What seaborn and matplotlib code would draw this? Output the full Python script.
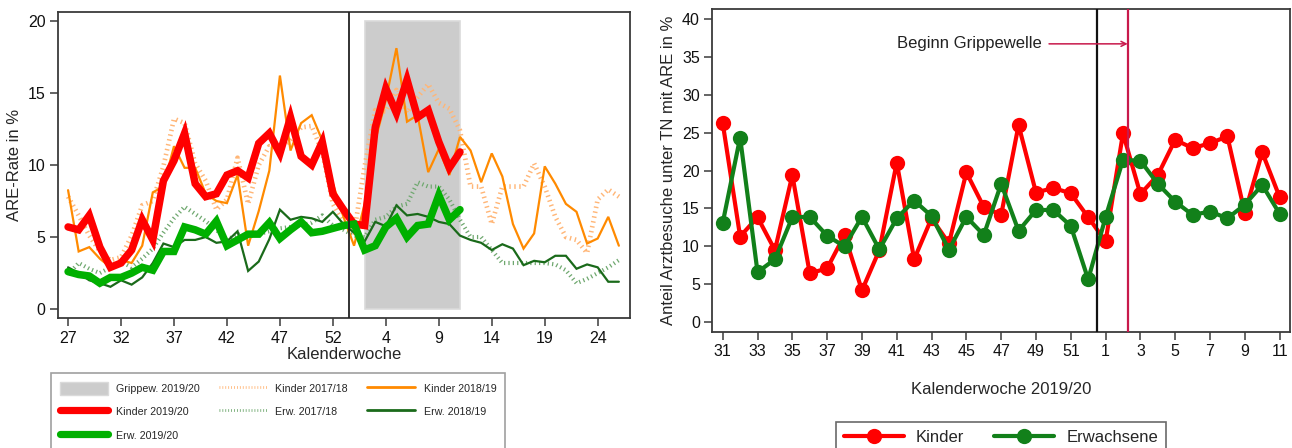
import numpy as np
import pandas as pd
import matplotlib
matplotlib.use("Agg")
import matplotlib.pyplot as plt
import seaborn as sns
from matplotlib.patches import Patch, Rectangle
from matplotlib.lines import Line2D

# ---------------- data: left panel (ARE-Rate) ----------------
left_weeks = list(range(27, 54)) + list(range(1, 27))          # 53 calendar weeks
left_tick_weeks = [27, 32, 37, 42, 47, 52, 4, 9, 14, 19, 24]

kinder_1718 = [7.8, 6.5, 5.1, 4.0, 3.4, 3.6, 5.1, 7.2, 7.5, 9.9, 13.2, 12.9, 10.1, 8.9,
               6.9, 7.6, 10.5, 7.3, 10.0, 11.3, 11.2, 11.7, 12.6, 12.7, 10.9, 7.3, 6.0,
               5.3, 9.9, 13.8, 13.7, 15.2, 13.6, 14.7, 15.6, 14.3, 13.9, 12.4, 8.5, 8.5,
               5.9, 8.5, 8.5, 8.5, 10.1, 8.5, 6.4, 5.0, 4.8, 3.9, 7.6, 8.3, 7.8]
erw_1718 = [2.4, 3.2, 2.8, 2.5, 2.9, 3.3, 2.9, 3.5, 4.2, 5.3, 6.3, 7.1, 6.6, 6.1, 5.5,
            4.8, 5.2, 5.0, 5.2, 5.4, 5.6, 5.7, 5.8, 6.0, 6.5, 5.8, 5.5, 5.1, 5.0, 6.2,
            6.4, 7.1, 7.3, 8.8, 8.5, 8.5, 7.6, 6.2, 5.0, 5.0, 4.1, 3.2, 3.2, 3.2, 3.2,
            3.2, 3.1, 2.7, 1.8, 2.1, 2.5, 2.9, 3.4]
kinder_1819 = [8.25, 4.0, 4.3, 3.5, 2.9, 3.4, 3.2, 4.4, 8.1, 8.5, 11.3, 9.8, 9.8, 8.0,
               7.5, 7.35, 9.3, 4.4, 6.8, 9.6, 16.2, 11.0, 12.9, 13.45, 11.7, 8.7, 6.4,
               4.4, 7.3, 11.7, 14.5, 18.1, 13.0, 13.45, 9.5, 11.1, 9.3, 11.95, 11.0, 8.8,
               10.8, 9.2, 5.9, 4.2, 5.25, 9.9, 8.7, 7.3, 6.75, 4.55, 4.9, 6.4, 4.4]
erw_1819 = [2.9, 2.5, 2.0, 1.8, 1.55, 2.0, 1.7, 2.2, 3.2, 4.55, 4.3, 4.8, 4.8, 5.0, 4.6,
            4.7, 5.4, 2.65, 3.3, 4.85, 6.9, 6.2, 6.4, 6.3, 6.05, 6.75, 5.9, 5.3, 4.7,
            6.05, 5.75, 7.2, 6.5, 6.6, 6.4, 6.05, 5.9, 5.1, 4.8, 4.6, 4.1, 4.5, 4.2,
            3.05, 3.35, 3.25, 3.7, 3.7, 2.8, 3.1, 2.9, 1.9, 1.9]
kinder_1920 = [5.7, 5.5, 6.5, 4.3, 2.9, 3.2, 4.1, 6.2, 4.8, 8.9, 10.3, 12.2, 8.7, 7.8,
               8.0, 9.3, 9.6, 9.1, 11.5, 12.2, 10.8, 13.3, 10.6, 10.0, 11.6, 8.0, 6.9,
               5.9, 5.8, 12.6, 15.3, 13.6, 15.9, 13.3, 13.8, 11.6, 9.8, 10.9]
erw_1920 = [2.6, 2.4, 2.3, 1.8, 2.2, 2.2, 2.5, 2.9, 2.7, 4.0, 4.0, 5.7, 5.5, 5.2, 6.1,
            4.4, 4.8, 5.2, 5.2, 6.0, 4.9, 5.5, 6.05, 5.3, 5.4, 5.6, 5.8, 5.9, 4.1, 4.4,
            5.7, 6.3, 5.0, 5.8, 5.9, 7.9, 6.2, 6.9]

flu_wave_left = (28, 37)          # index range of Grippewelle 2019/20 (KW 2 - KW 11)
flu_wave_height = 20
year_change_left = 26.5

# ---------------- data: right panel ----------------
right_weeks = list(range(31, 53)) + list(range(1, 12))
kinder_r = [26.25, 11.3, 13.85, 9.5, 19.4, 6.45, 7.1, 11.5, 4.2, 9.5, 21.05, 8.3, 13.7,
            10.4, 19.75, 15.2, 14.15, 26.0, 17.1, 17.7, 17.0, 13.85, 10.65, 24.9, 16.9,
            19.4, 24.05, 22.95, 23.6, 24.5, 14.4, 22.4, 16.5]
erw_r = [13.1, 24.35, 6.6, 8.3, 13.85, 13.9, 11.4, 10.0, 13.9, 9.6, 13.7, 16.05, 14.0,
         9.55, 13.9, 11.5, 18.25, 12.05, 14.8, 14.8, 12.7, 5.65, 13.85, 21.4, 21.3,
         18.25, 15.9, 14.15, 14.6, 13.7, 15.5, 18.1, 14.3]
year_change_right = 21.5
flu_start_right = 23.27
arrow_y = 36.7
arrow_start = 18.75

# ---------------- style ----------------
sns.set_theme(style="ticks")
plt.rcParams["font.family"] = ["Liberation Sans", "DejaVu Sans"]

RED = "#FF0000"
GREEN = "#00B000"
DKGREEN = "#1A6A1A"
ORANGE = "#FF8A00"
LORANGE = "#FFB677"
LGREEN = "#6FA86F"
RGREEN = "#12801A"
CRIMSON = "#C8194B"
SPINE = "#3A3A3A"

fig = plt.figure(figsize=(12.92, 4.48), dpi=100)
ax1 = fig.add_axes([0.0449, 0.290, 0.4427, 0.683])
ax2 = fig.add_axes([0.5513, 0.259, 0.4472, 0.721])

# ---------------- left panel ----------------
pos_left = np.arange(len(left_weeks))
ax1.add_patch(Rectangle((flu_wave_left[0], 0), flu_wave_left[1] - flu_wave_left[0],
                        flu_wave_height, facecolor="#CCCCCC", edgecolor="#DADADA",
                        linewidth=1.2, zorder=0.5))

dot = (0, (0.3, 0.75))
series = [
    (kinder_1718, LORANGE, 3.4, dot),
    (erw_1718, LGREEN, 3.0, dot),
    (kinder_1819, ORANGE, 1.6, "-"),
    (erw_1819, DKGREEN, 1.6, "-"),
    (kinder_1920, RED, 5.4, "-"),
    (erw_1920, GREEN, 5.4, "-"),
]
for vals, col, lw, ls in series:
    df = pd.DataFrame({"idx": pos_left[:len(vals)], "val": vals})
    sns.lineplot(data=df, x="idx", y="val", ax=ax1, color=col, linewidth=lw,
                 linestyle=ls, dash_capstyle="butt", solid_joinstyle="miter",
                 legend=False, zorder=2)

ax1.axvline(year_change_left, color="#222222", linewidth=1.3, zorder=3)
ax1.set_xlim(-0.95, 53.05)
ax1.set_ylim(-0.62, 20.6)
ax1.set_yticks([0, 5, 10, 15, 20])
tick_pos = [left_weeks.index(w) for w in left_tick_weeks]
ax1.set_xticks(tick_pos)
ax1.set_xticklabels([str(w) for w in left_tick_weeks])
ax1.set_xlabel("Kalenderwoche", fontsize=12, labelpad=1)
ax1.set_ylabel("ARE-Rate in %", fontsize=12, labelpad=4)

leg_handles = [
    Patch(facecolor="#CCCCCC", edgecolor="#DADADA"),
    Line2D([], [], color=RED, linewidth=5.2),
    Line2D([], [], color=GREEN, linewidth=5.2),
    Line2D([], [], color=LORANGE, linewidth=2.0, linestyle=dot, dash_capstyle="butt"),
    Line2D([], [], color=LGREEN, linewidth=2.0, linestyle=dot, dash_capstyle="butt"),
    Line2D([], [], color=ORANGE, linewidth=2.0),
    Line2D([], [], color=DKGREEN, linewidth=2.0),
]
leg_labels = ["Grippew. 2019/20", "Kinder 2019/20", "Erw. 2019/20",
              "Kinder 2017/18", "Erw. 2017/18", "Kinder 2018/19", "Erw. 2018/19"]
leg1 = fig.legend(leg_handles, leg_labels, ncol=3, loc="upper left",
                  bbox_to_anchor=(51 / 1292, 1 - 373 / 448), fontsize=7.7,
                  frameon=True, fancybox=False, edgecolor="#888888",
                  handlelength=4.5, handleheight=1.5, handletextpad=0.78,
                  columnspacing=1.8, labelspacing=1.0, borderpad=0.8,
                  borderaxespad=0)
leg1.get_frame().set_linewidth(1.2)

# ---------------- right panel ----------------
pos_right = np.arange(len(right_weeks))
df_r = pd.DataFrame({"idx": np.concatenate([pos_right, pos_right]),
                     "val": kinder_r + erw_r,
                     "grp": ["Kinder"] * len(kinder_r) + ["Erwachsene"] * len(erw_r)})
sns.lineplot(data=df_r, x="idx", y="val", hue="grp", ax=ax2,
             palette={"Kinder": RED, "Erwachsene": RGREEN},
             hue_order=["Kinder", "Erwachsene"], linewidth=3.0, marker="o",
             markersize=11, markeredgewidth=0, legend=False, zorder=2)

ax2.axvline(year_change_right, color="#111111", linewidth=1.6, zorder=3)
ax2.axvline(flu_start_right, color=CRIMSON, linewidth=1.6, zorder=3)
ax2.annotate("", xy=(flu_start_right, arrow_y), xytext=(arrow_start, arrow_y),
             arrowprops=dict(arrowstyle="->", color=CRIMSON, lw=1.1,
                             shrinkA=0, shrinkB=0, mutation_scale=9))
ax2.text(arrow_start - 0.4, arrow_y, "Beginn Grippewelle", ha="right", va="center",
         fontsize=12, color="#222222")

ax2.set_xlim(-0.6, 32.6)
ax2.set_ylim(-1.28, 41.3)
ax2.set_yticks(range(0, 41, 5))
ax2.set_xticks(pos_right[::2])
ax2.set_xticklabels([str(w) for w in right_weeks[::2]])
ax2.set_xlabel("Kalenderwoche 2019/20", fontsize=12, labelpad=16)
ax2.set_ylabel("Anteil Arztbesuche unter TN mit ARE in %", fontsize=12, labelpad=4)

leg2_handles = [
    Line2D([], [], color=RED, linewidth=3.0, marker="o", markersize=11, markeredgewidth=0),
    Line2D([], [], color=RGREEN, linewidth=3.0, marker="o", markersize=11, markeredgewidth=0),
]
leg2 = fig.legend(leg2_handles, ["Kinder", "Erwachsene"], ncol=2, loc="upper left",
                  bbox_to_anchor=(836 / 1292, 1 - 422 / 448), fontsize=12,
                  frameon=True, fancybox=False, edgecolor="#444444",
                  handlelength=3.6, handletextpad=0.75, columnspacing=1.8,
                  borderpad=0.45, borderaxespad=0)
leg2.get_frame().set_linewidth(1.2)

for ax in (ax1, ax2):
    for sp in ax.spines.values():
        sp.set_visible(True)
        sp.set_color(SPINE)
        sp.set_linewidth(1.3)
    ax.tick_params(axis="both", direction="out", length=6, width=1.1, color=SPINE,
                   labelsize=11.5, labelcolor="#111111", pad=3)
    ax.set_facecolor("white")
    ax.grid(False)

fig.savefig("out.png", dpi=100, facecolor="white")
